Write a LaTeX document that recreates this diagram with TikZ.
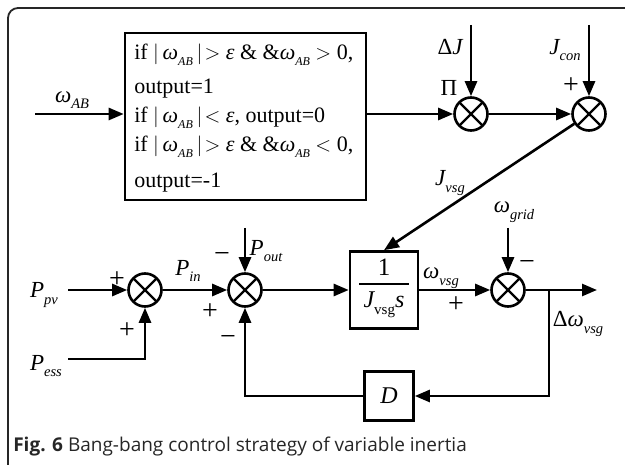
\documentclass[tikz,border=0pt]{standalone}
\usepackage{fontspec}
\setmainfont{Liberation Serif}
\newfontfamily\capfont{Open Sans}
\usetikzlibrary{arrows.meta}
\newcommand\itw{{\itshape ω}}
\newcommand\sbs[1]{\raisebox{-0.55ex}{\fontsize{12}{12}\selectfont\itshape #1}}
\newcommand\sbl[1]{\raisebox{-0.6ex}{\fontsize{14.5}{14.5}\selectfont\itshape #1}}
\begin{document}
\begin{tikzpicture}[x=1pt,y=-1pt,line width=2.6pt,
  arr/.style={-{Triangle[length=15pt,width=12pt]}},
  sumc/.style={circle,draw,minimum size=33pt,inner sep=0pt,
    path picture={\draw[line width=2.4pt] (path picture bounding box.north west) -- (path picture bounding box.south east)
      (path picture bounding box.north east) -- (path picture bounding box.south west);}},
  blk/.style={draw,inner sep=0pt},
  lbl/.style={font=\fontsize{23}{23}\selectfont,inner sep=0pt},
  sgn/.style={font=\fontsize{28}{28}\selectfont,inner sep=0pt},
  cnd/.style={font=\fontsize{22}{22}\selectfont,inner sep=0pt,anchor=base west,text height=15pt,text depth=3pt}]
\useasboundingbox (0,0) rectangle (625,465);
\begin{scope}
\clip (0,0) rectangle (625,465);
\draw[rounded corners=10pt,line width=1.8pt,black!85] (8,8) rectangle (645,475);
\end{scope}
% condition box
\node[blk,minimum width=241pt,minimum height=167pt] (cond) at (245.5,116.5) {};
\node[cnd] (c1) at (133,60) {if $|$\,\itw\sbs{AB}\,$|\!>$ {\itshape ε} \& \&\itw\sbs{AB} $>$ 0,};
\node[cnd] (c2) at (133,94) {output=1};
\node[cnd] (c3) at (133,123) {if $|$\,\itw\sbs{AB}\,$|\!<$ {\itshape ε}, output=0};
\node[cnd] (c4) at (133,152) {if $|$\,\itw\sbs{AB}\,$|\!>$ {\itshape ε} \& \&\itw\sbs{AB} $<$ 0,};
\node[cnd] (c5) at (133,188) {output=-1};
% multipliers
\node[sumc] (m1) at (471,114) {};
\node[sumc] (m2) at (589,114) {};
\coordinate (in0) at (35,114);
\coordinate (dj0) at (471,25);
\coordinate (jc0) at (589,25);
\draw[arr] (in0) -- (cond.west |- in0);
\draw[arr] (cond.east |- m1) -- (m1);
\draw[arr] (dj0) -- (m1);
\draw[arr] (jc0) -- (m2);
\draw[arr] (m1) -- (m2);
% lower row
\node[blk,minimum width=68pt,minimum height=77pt] (G) at (384,290) {};
\node[sumc] (s3) at (508,290) {};
\node[sumc] (s2) at (245,290) {};
\node[sumc] (s1) at (145,290) {};
\node[blk,minimum width=49pt,minimum height=49pt,font=\fontsize{24}{24}\selectfont\itshape] (D) at (389,396) {D};
\draw[arr] (m2) -- (G.north);
\coordinate (wg0) at (508,228);
\coordinate (po0) at (245,228);
\coordinate (br) at (549,290);
\coordinate (out) at (597,290);
\coordinate (brd) at (549,396);
\coordinate (fbl) at (245,396);
\coordinate (pv0) at (68,290);
\coordinate (pe0) at (68,359);
\coordinate (pe1) at (145,359);
\draw[arr] (wg0) -- (s3);
\draw[arr] (G) -- (s3);
\draw[arr] (s3) -- (out);
\draw[arr] (br) -- (brd) -- (D);
\draw[arr] (D) -- (fbl) -- (s2);
\draw[arr] (po0) -- (s2);
\draw[arr] (s2) -- (G);
\draw[arr] (s1) -- (s2);
\draw[arr] (pv0) -- (s1);
\draw[arr] (pe0) -- (pe1) -- (s1);
% block text
\draw[line width=1.2pt] (359,284) -- (409,284);
\node[lbl,font=\fontsize{25}{25}\selectfont] (g1) at (384,267) {1};
\node[lbl,font=\fontsize{24}{24}\selectfont] (g2) at (384,305) {{\itshape J}\raisebox{-0.6ex}{\fontsize{15}{15}\selectfont vsg}{\itshape s}};
% labels
\node[lbl] (lwab) at (72,100) {\itw\sbl{AB}};
\node[lbl] (ldj) at (450,47) {Δ{\itshape J}};
\node[lbl] (lpi) at (449,88) {Π};
\node[lbl] (ljc) at (565,50) {{\itshape J}\sbl{con}};
\node[sgn] (pl1) at (571,86) {+};
\node[lbl] (ljv) at (450,183) {{\itshape J}\sbl{vsg}};
\node[lbl] (lwg) at (514,212) {\itw\sbl{grid}};
\node[sgn] (mi1) at (527,266) {−};
\node[lbl] (lwv) at (441,278) {\itw\sbl{vsg}};
\node[sgn] (pl2) at (456,305) {+};
\node[lbl] (ldw) at (578,324) {Δ\itw\sbl{vsg}};
\node[lbl] (lpv) at (44,295) {{\itshape P}\sbl{pv}};
\node[sgn] (pl3) at (117,280) {+};
\node[sgn] (pl4) at (127,331) {+};
\node[lbl] (lpe) at (46,366) {{\itshape P}\sbl{ess}};
\node[lbl] (lpi2) at (188,271) {{\itshape P}\sbl{in}};
\node[sgn] (pl5) at (210,312) {+};
\node[lbl] (lpo) at (266,251) {{\itshape P}\sbl{out}};
\node[sgn] (mi2) at (222,258) {−};
\node[sgn] (mi3) at (228,341) {−};
% caption
\node[anchor=base west,inner sep=0pt,text=black!85,font=\capfont\fontsize{19}{19}\selectfont] (cap) at (12,452) {\textbf{Fig. 6} Bang-bang control strategy of variable inertia};
\end{tikzpicture}
\end{document}
